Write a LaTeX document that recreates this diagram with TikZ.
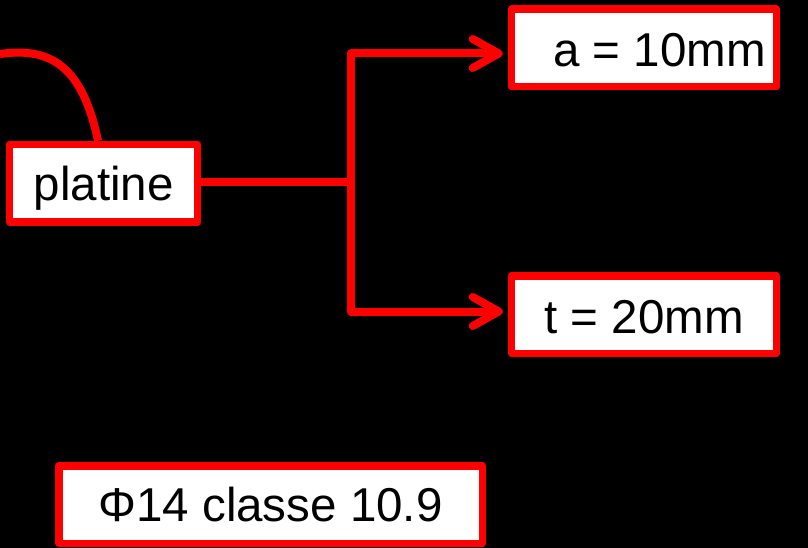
\documentclass[tikz,border=0pt]{standalone}
\usepackage{fontspec}
\setmainfont{Liberation Sans}
\usetikzlibrary{arrows.meta}
\definecolor{rd}{RGB}{255,0,0}
\tikzset{
 lab/.style={draw=rd,line width=7.5pt,fill=white,text=black,font=\fontsize{47.5}{50}\selectfont,inner sep=0pt,anchor=center,line join=round},
 conn/.style={draw=rd,line width=8pt},
 barb/.style={-{Straight Barb[round,length=26pt,width=29pt,line width=8pt]},shorten >=5pt,line join=round}
}
\newcommand{\drop}[2]{\raisebox{-#1pt}[0pt][0pt]{#2}}
\begin{document}
\begin{tikzpicture}[x=1pt,y=-1pt]
\useasboundingbox[fill=black] (0,0) rectangle (808,548);
\coordinate (j) at (351,182);
\coordinate (s) at (0,54);
\node[lab,minimum width=188,minimum height=77.5] (pl) at (103.7,183.2) {\drop{17}{platine}};
\node[lab,minimum width=265,minimum height=77.5] (a) at (644,48) {\hspace*{31pt}\drop{18.5}{a = 10mm}};
\node[lab,minimum width=265,minimum height=77.5] (t) at (644,314.5) {\drop{18.5}{t = 20mm}};
\node[lab,minimum width=423.5,minimum height=77.8] (phi) at (270.5,504.7) {\drop{17}{Φ14 classe 10.9}};
\draw[conn] (s) .. controls (50,47) and (82,65) .. (pl.north -| 98,141);
\draw[conn] (pl.east |- j) -- (j);
\draw[conn,barb] (j) |- ([yshift=-5.5pt]a.west);
\draw[conn,barb] (j) |- ([yshift=3pt]t.west);
\end{tikzpicture}
\end{document}
